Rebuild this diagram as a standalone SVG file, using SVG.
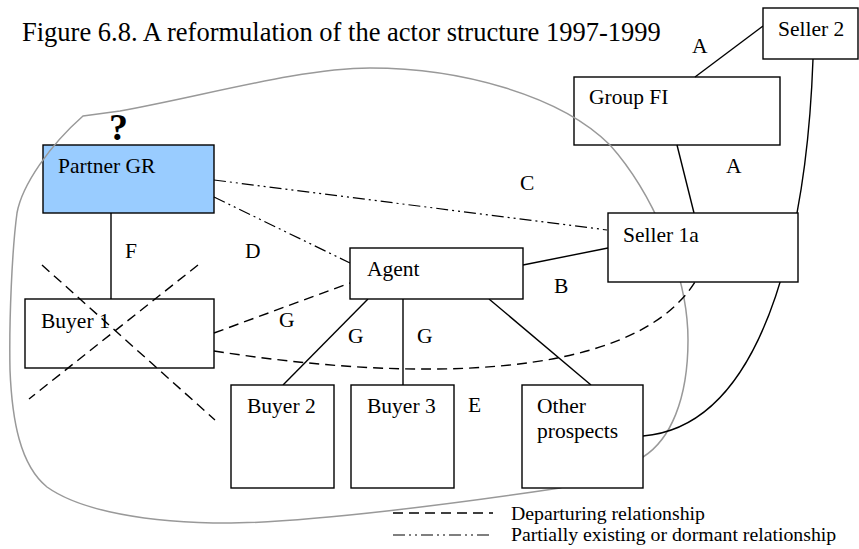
<svg xmlns="http://www.w3.org/2000/svg" width="859" height="549" viewBox="0 0 859 549">
<style>
  text { font-family: "Liberation Serif", "Times New Roman", serif; fill: #000; }
  .lbl { font-size: 21.5px; }
  .title { font-size: 26.5px; }
  .leg { font-size: 19.8px; }
  .box { fill: #fff; stroke: #000; stroke-width: 1.4; }
  .open { fill: none; stroke: #000; stroke-width: 1.4; }
  .solid { fill: none; stroke: #000; stroke-width: 1.4; }
  .dash { fill: none; stroke: #000; stroke-width: 1.4; stroke-dasharray: 10 6; }
  .dd { fill: none; stroke: #000; stroke-width: 1.2; stroke-dasharray: 12 4 2 4 2 4; }
  .loop { fill: none; stroke: #999; stroke-width: 1.5; }
</style>
<rect width="859" height="549" fill="#fff"/>
<text class="title" x="22" y="41">Figure 6.8. A reformulation of the actor structure 1997-1999</text>

<g id="node-partner-gr">
  <rect x="43" y="145" width="171" height="68" fill="#99ccff" stroke="#000" stroke-width="1.4"/>
  <text class="lbl" x="58" y="173">Partner GR</text>
  <text x="109" y="140" style="font-size:38px;font-weight:bold">?</text>
</g>
<g id="node-group-fi">
  <rect class="open" x="574" y="77" width="206" height="68"/>
  <text class="lbl" x="589" y="104">Group FI</text>
</g>

<path id="network-boundary" class="loop" d="M83,116 L120,111 C200,97 300,68 370,68 C460,68 560,95 610,145 C650,190 688,270 688,340 C688,400 670,440 643,457 L560,488 C480,500 300,525 213,523 C130,521 75,507 47,487 C20,465 12,420 10,370 C9,320 12,250 17,213 C22,185 50,145 83,116 Z"/>

<g id="connectors">
  <path class="solid" d="M763,26 L695,77"/>
  <path class="solid" d="M677,145 L694,213"/>
  <path class="solid" d="M813,59 C808,200 775,425 643,436"/>
  <path class="dd" d="M214,180 L607,230"/>
  <path class="dd" d="M214,197 L350,263"/>
  <path class="solid" d="M111,213 L111,299"/>
  <path class="dash" d="M214,333 L350,283"/>
  <path class="dash" d="M214,351 C400,380 630,385 695,282"/>
  <path class="solid" d="M523,265 L608,248"/>
  <path class="solid" d="M368,299 L283,385"/>
  <path class="solid" d="M403,299 L403,385"/>
  <path class="solid" d="M489,299 L591,385"/>
</g>

<g id="node-seller-2">
  <rect class="box" x="763" y="8" width="95" height="51"/>
  <text class="lbl" x="778" y="36">Seller 2</text>
</g>
<g id="node-seller-1a">
  <rect class="box" x="608" y="213" width="190" height="69"/>
  <text class="lbl" x="623" y="242">Seller 1a</text>
</g>
<g id="node-agent">
  <rect class="box" x="350" y="248" width="173" height="51"/>
  <text class="lbl" x="367" y="276">Agent</text>
</g>
<g id="node-buyer-1">
  <rect class="open" x="25" y="299" width="189" height="69"/>
  <text class="lbl" x="41" y="328">Buyer 1</text>
</g>
<g id="node-buyer-2">
  <rect class="box" x="231" y="385" width="103" height="103"/>
  <text class="lbl" x="247" y="413">Buyer 2</text>
</g>
<g id="node-buyer-3">
  <rect class="box" x="351" y="385" width="103" height="103"/>
  <text class="lbl" x="367" y="413">Buyer 3</text>
</g>
<g id="node-other-prospects">
  <rect class="box" x="522" y="385" width="121" height="103"/>
  <text class="lbl" x="537" y="413">Other</text>
  <text class="lbl" x="537" y="438">prospects</text>
</g>

<g id="cross">
  <path class="dash" d="M42,265 L215,420"/>
  <path class="dash" d="M198,265 L29,399"/>
</g>

<g id="connector-labels">
  <text class="lbl" x="692" y="53">A</text>
  <text class="lbl" x="726" y="173">A</text>
  <text class="lbl" x="520" y="190">C</text>
  <text class="lbl" x="125" y="258">F</text>
  <text class="lbl" x="245" y="258">D</text>
  <text class="lbl" x="554" y="293">B</text>
  <text class="lbl" x="279" y="327">G</text>
  <text class="lbl" x="348" y="343">G</text>
  <text class="lbl" x="417" y="343">G</text>
  <text class="lbl" x="468" y="412">E</text>
</g>

<g id="legend">
  <path class="dash" d="M393,513 L493,513"/>
  <text class="leg" x="511" y="520">Departuring relationship</text>
  <path class="dd" d="M393,535 L493,535"/>
  <text class="leg" x="511" y="541">Partially existing or dormant relationship</text>
</g>
</svg>
